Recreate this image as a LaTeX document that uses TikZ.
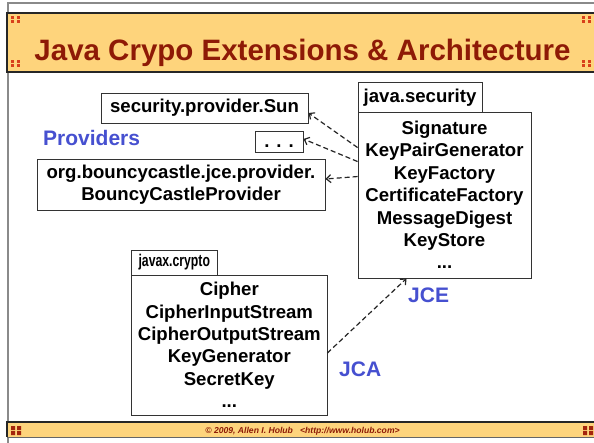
\documentclass[tikz,border=0pt]{standalone}
\usepackage{fontspec}
\setmainfont{Liberation Sans}
\usetikzlibrary{arrows.meta}
\definecolor{band}{HTML}{FED47C}
\definecolor{titlered}{HTML}{8E1A06}
\definecolor{dotred}{HTML}{D8401A}
\definecolor{label}{HTML}{4650D0}
\definecolor{frame}{HTML}{8A8A8A}
\tikzset{
  box/.style={draw=black!80, line width=0.9pt, fill=white, inner sep=0pt, align=center,
    font=\fontsize{18.6}{22.4}\selectfont\bfseries},
  tag/.style={font=\fontsize{21}{24}\selectfont\bfseries, text=label, inner sep=0pt},
  dep/.style={black!85, line width=1.2pt, dash pattern=on 5pt off 3pt,
    -{Straight Barb[length=4.5pt,width=8pt,line width=1.2pt]}},
  dotsq/.style={fill=dotred, draw=none}
}
\newcommand{\cornerdots}[3]{% x, y, square size
  \fill[dotsq] (#1,#2) rectangle ++(#3,#3);
  \fill[dotsq] (#1+6,#2) rectangle ++(#3,#3);
  \fill[dotsq] (#1,#2+#3+1.5) rectangle ++(#3,#3);
  \fill[dotsq] (#1+6,#2+#3+1.5) rectangle ++(#3,#3);
}
\begin{document}
\begin{tikzpicture}[x=1pt,y=-1pt]
\useasboundingbox (0,0) rectangle (594,443);
\fill[white] (0,0) rectangle (594,443);

% slide frame
\draw[frame, line width=2pt] (7.5,443) -- (7.5,3.5) -- (594,3.5);

% title band
\fill[band] (7,13) rectangle (594,72);
\draw[black!85, line width=1.4pt] (594,13) -- (7,13) -- (7,72) -- (594,72);
\cornerdots{11}{16}{3}
\cornerdots{11}{60}{3}
\cornerdots{582}{16}{3}
\cornerdots{582}{60}{3}
\node[anchor=base, text=titlered, font=\fontsize{29.5}{32}\selectfont\bfseries, inner sep=0pt]
  (title) at (302.5,60.5) {Java Crypo Extensions \& Architecture};

% footer band
\fill[band] (7,422) rectangle (594,437);
\draw[black!85, line width=1.2pt] (594,422) -- (7,422) -- (7,437);
\draw[black!60, line width=1.6pt] (7,437.5) -- (594,437.5);
\fill[titlered!70!dotred] (11,426) rectangle ++(4,4) (17,426) rectangle ++(4,4)
  (11,431) rectangle ++(4,4) (17,431) rectangle ++(4,4);
\fill[titlered!70!dotred] (583,426) rectangle ++(4,4) (589,426) rectangle ++(4,4)
  (583,431) rectangle ++(4,4) (589,431) rectangle ++(4,4);
\node[anchor=base, text=titlered, font=\fontsize{8.6}{10}\selectfont\bfseries\itshape, inner sep=0pt]
  (foot) at (302.5,433) {\textcopyright\ 2009, Allen I. Holub\ \ \ {<}http://www.holub.com{>}};

% provider classes
\node[box, minimum width=207pt, minimum height=30pt] (sun) at (204.5,108) {security.provider.Sun};
\node[box, minimum width=48pt, minimum height=21pt] (dots) at (279,141.5)
  {\rule{0pt}{12pt}.\hspace{7pt}.\hspace{7pt}.};
\node[box, minimum width=288pt, minimum height=51pt] (bc) at (181,184.5)
  {org.bouncycastle.jce.provider.\\BouncyCastleProvider};
\node[tag, anchor=base west] (prov) at (43,145.5) {Providers};

% java.security package
\node[box, minimum width=124pt, minimum height=29.5pt] (jsectab) at (420,97.5) {java.security};
\node[box, minimum width=173pt, minimum height=166pt] (jsec) at (444.5,195)
  {Signature\\KeyPairGenerator\\KeyFactory\\CertificateFactory\\MessageDigest\\KeyStore\\...};
\node[tag, anchor=base west] (jce) at (408,303) {JCE};

% javax.crypto package
\node[box, minimum width=85.3pt, minimum height=25pt] (jxtab) at (174.3,262.5)
  {\scalebox{0.72}[1]{\fontsize{17}{20}\selectfont javax.crypto}};
\node[box, minimum width=195.3pt, minimum height=140pt] (jx) at (229.3,345)
  {Cipher\\CipherInputStream\\CipherOutputStream\\KeyGenerator\\SecretKey\\...};
\node[tag, anchor=base west] (jca) at (339,376) {JCA};

% dependencies
\draw[dep] ([yshift=-36pt]jsec.north west) -- ([yshift=-5pt]sun.east);
\draw[dep] ([yshift=-50pt]jsec.north west) -- ([yshift=2.5pt]dots.east);
\draw[dep] ([yshift=-65pt]jsec.north west) -- ([yshift=5.5pt]bc.east);
\draw[dep] ([yshift=-8pt]jx.east) -- ([xshift=49pt]jsec.south west);
\end{tikzpicture}
\end{document}
